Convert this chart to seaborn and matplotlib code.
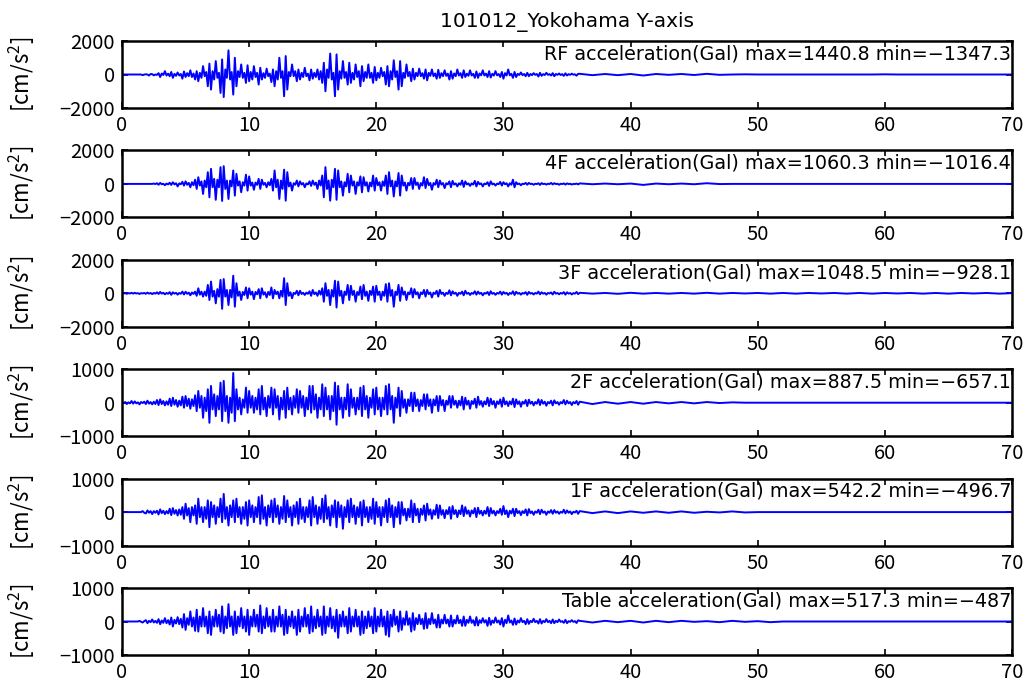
import numpy as np
import pandas as pd
import matplotlib
matplotlib.use("Agg")
import matplotlib.pyplot as plt
import seaborn as sns

# ---------------------------------------------------------------------------
# Acceleration records (Gal): one row per second, 8 samples (0.125 s apart)
# from 0 s to 36 s, then a coarse 1 s tail from 36 s to 70 s.
# ---------------------------------------------------------------------------
TITLE = "101012_Yokohama Y-axis"
floors = ["RF", "4F", "3F", "2F", "1F", "Table"]
y_limits = [2000, 2000, 2000, 1000, 1000, 1000]
x_ticks = [0, 10, 20, 30, 40, 50, 60, 70]
DT = 0.125
TAIL_START = 36

rf_acc = [
    0, 0, 0, 0, 0, 0, 0, 0,
    0, 0, 0, 0, 0, -40, 0, 10,
    0, -60, 30, 20, -50, 0, -20, 80,
    -150, 60, -30, 200, -60, 50, -100, 150,
    -200, 40, -80, 120, -60, 30, -250, 180,
    -150, 80, -100, 250, -150, 60, -300, 200,
    -400, 100, -200, 500, -100, 150, -700, 650,
    -900, 200, -300, 800, -200, 100, -1100, 900,
    -1347.3, 300, -200, 1440.8, -300, 150, -1200, 1000,
    -700, 200, -150, 600, -200, 100, -500, 550,
    -400, 150, -300, 500, -150, 100, -600, 400,
    -300, 80, -200, 350, -100, 50, -450, 300,
    -700, 200, -300, 1000, -200, 200, -1300, 1100,
    -900, 150, -100, 600, -100, 200, -400, 300,
    -300, 100, -150, 400, -100, 50, -350, 300,
    -250, 100, -150, 300, -300, 200, -500, 700,
    -1000, 300, -200, 1250, -300, 100, -1300, 1200,
    -900, 200, -250, 800, -200, 150, -600, 700,
    -500, 100, -300, 600, -150, 200, -700, 500,
    -400, 150, -200, 600, -200, 100, -500, 450,
    -350, 100, -200, 400, -100, 150, -600, 500,
    -700, 200, -300, 850, -150, 200, -900, 800,
    -700, 100, -200, 600, -100, 150, -400, 350,
    -300, 100, -100, 350, -100, 80, -250, 300,
    -350, 100, -80, 300, -100, 60, -250, 280,
    -200, 80, -100, 250, -80, 50, -300, 200,
    -250, 60, -100, 300, -60, 80, -200, 250,
    -150, 50, -80, 250, -60, 40, -200, 180,
    -200, 60, -50, 250, -60, 50, -150, 200,
    -180, 40, -60, 200, -50, 30, -150, 150,
    -250, 80, -60, 300, -50, 40, -200, 150,
    -150, 40, -30, 120, -40, 30, -100, 100,
    -100, 30, -40, 80, -20, 30, -120, 100,
    -80, 20, -30, 100, -20, 20, -60, 80,
    -100, 30, -20, 60, -30, 20, -80, 70,
    -60, 20, -20, 50, -10, 10, -70, 40,
]
rf_tail = [40, -40, 30, -40, 30, -60, 30, -20, 30, -30, 40, -20, 0, 10, 0, 0,
           0, 0, 0, 0, 0, 0, 0, 0, 10, 0, 0, 0, 0, 0, 0, 0, 0, 0, 0]

f4_acc = [
    0, 0, 0, 0, 0, 0, 0, 0,
    0, 0, 0, 0, 0, 0, 0, 0,
    0, 0, 0, 0, 20, -10, 40, -50,
    60, -20, 10, -80, 20, -30, 70, -60,
    100, -30, 40, -150, 30, -20, 120, -100,
    150, -50, 60, -200, 100, -80, 250, -300,
    400, -100, 150, -600, 200, -200, 700, -800,
    900, -200, 300, -950, 250, -200, 1000, -1016.4,
    1060.3, -300, 200, -900, 200, -150, 800, -700,
    600, -100, 150, -500, 100, -100, 550, -400,
    450, -100, 80, -350, 80, -60, 300, -300,
    250, -50, 60, -200, 100, -80, 300, -400,
    800, -200, 250, -900, 200, -300, 850, -1000,
    700, -150, 80, -400, 40, -50, 200, -150,
    150, -40, 50, -200, 30, -30, 150, -120,
    200, -50, 80, -300, 200, -100, 500, -800,
    1000, -300, 200, -1000, 250, -200, 900, -950,
    800, -200, 150, -700, 100, -150, 600, -500,
    500, -100, 150, -600, 100, -100, 450, -500,
    400, -100, 100, -450, 80, -150, 500, -400,
    350, -80, 100, -400, 150, -120, 500, -600,
    700, -150, 200, -750, 150, -150, 650, -700,
    500, -100, 80, -400, 60, -80, 350, -300,
    350, -60, 80, -300, 50, -100, 400, -250,
    300, -80, 60, -350, 50, -50, 250, -200,
    200, -40, 50, -250, 40, -30, 150, -200,
    180, -40, 30, -150, 40, -50, 200, -180,
    150, -30, 30, -120, 30, -40, 180, -150,
    120, -20, 30, -150, 20, -20, 100, -120,
    150, -30, 20, -100, 20, -20, 120, -100,
    100, -20, 40, -150, 40, -50, 250, -200,
    100, -20, 20, -80, 10, -10, 60, -50,
    60, -10, 10, -50, 10, -10, 40, -60,
    50, -10, 10, -40, 10, -10, 60, -30,
    40, -10, 10, -50, 10, -10, 30, -40,
    30, -10, 10, -40, 0, -10, 20, -30,
]
f4_tail = [30, -20, 20, -20, 20, -60, 20, -20, 20, -20, 40, -10, 0, 0, 0, 0,
           0, 0, 0, 0, 0, 0, 0, 0, 0, 0, 0, 0, 0, 0, 0, 0, 0, 0, 0]

f3_acc = [
    20, -10, 10, -30, 10, -10, 30, -20,
    30, -10, 10, -40, 10, -10, 20, -30,
    40, -20, 20, -50, 20, -20, 60, -40,
    80, -20, 30, -60, 20, -30, 70, -90,
    60, -20, 30, -80, 20, -30, 100, -70,
    90, -30, 40, -120, 50, -40, 100, -150,
    300, -80, 100, -200, 100, -150, 500, -400,
    700, -200, 150, -600, 250, -200, 800, -928.1,
    850, -200, 200, -700, 200, -250, 1048.5, -800,
    600, -150, 100, -400, 80, -100, 350, -300,
    300, -80, 100, -350, 80, -60, 250, -300,
    300, -80, 60, -250, 80, -100, 350, -300,
    200, -50, 100, -300, 150, -200, 900, -700,
    600, -150, 60, -300, 30, -40, 150, -120,
    150, -40, 30, -100, 40, -30, 120, -150,
    200, -50, 50, -150, 150, -80, 300, -500,
    600, -150, 200, -700, 200, -200, 750, -850,
    700, -150, 150, -600, 100, -100, 500, -400,
    450, -100, 150, -500, 80, -100, 400, -350,
    500, -150, 100, -450, 150, -100, 400, -500,
    450, -100, 100, -400, 100, -150, 550, -500,
    600, -150, 200, -800, 100, -100, 500, -450,
    350, -80, 100, -400, 50, -60, 300, -250,
    250, -60, 60, -300, 50, -50, 200, -200,
    200, -50, 50, -250, 40, -40, 150, -200,
    200, -40, 40, -150, 30, -40, 180, -120,
    120, -30, 40, -150, 30, -30, 100, -120,
    150, -30, 30, -100, 20, -30, 120, -80,
    100, -30, 30, -120, 20, -20, 80, -100,
    120, -30, 20, -90, 20, -20, 100, -80,
    80, -20, 30, -100, 20, -30, 120, -100,
    90, -20, 20, -80, 20, -20, 70, -90,
    80, -20, 20, -70, 20, -20, 100, -60,
    60, -20, 20, -80, 20, -10, 50, -70,
    90, -20, 20, -60, 20, -20, 70, -80,
    60, -20, 20, -70, 10, -20, 80, -50,
]
f3_tail = [30, -20, 20, -30, 30, -20, 20, -20, 20, -20, 30, -20, 20, -10, 20, -20,
           20, -20, 20, -10, 20, -20, 20, -20, 20, -10, 20, -20, 20, -20, 20, -10,
           20, -20, 10]

f2_acc = [
    30, -10, 20, -40, 10, -20, 50, -30,
    40, -20, 10, -50, 20, -10, 30, -40,
    60, -30, 20, -50, 30, -40, 80, -70,
    100, -40, 50, -80, 40, -60, 120, -100,
    150, -60, 80, -120, 60, -80, 180, -150,
    200, -100, 120, -180, 100, -100, 220, -250,
    350, -150, 200, -450, 150, -250, 400, -600,
    500, -200, 250, -400, 200, -200, 600, -550,
    650, -250, 200, -600, 150, -300, 887.5, -550,
    400, -200, 150, -350, 100, -150, 450, -300,
    350, -150, 200, -300, 150, -200, 400, -350,
    500, -200, 150, -400, 200, -150, 450, -350,
    400, -150, 200, -500, 150, -200, 350, -450,
    450, -200, 150, -350, 200, -150, 400, -300,
    350, -150, 200, -400, 150, -200, 500, -300,
    500, -200, 250, -450, 150, -200, 550, -400,
    450, -200, 200, -500, 200, -250, 600, -657.1,
    500, -200, 150, -450, 150, -200, 550, -400,
    400, -150, 150, -350, 150, -200, 450, -400,
    500, -200, 200, -450, 150, -150, 400, -350,
    450, -200, 150, -400, 150, -200, 500, -350,
    550, -200, 200, -600, 150, -150, 450, -400,
    350, -150, 100, -300, 100, -100, 300, -250,
    300, -100, 100, -250, 80, -100, 250, -200,
    250, -100, 100, -300, 100, -80, 200, -250,
    200, -80, 80, -250, 60, -60, 200, -150,
    200, -60, 60, -150, 60, -80, 180, -200,
    150, -60, 60, -180, 50, -40, 120, -150,
    180, -60, 50, -120, 40, -50, 150, -100,
    120, -50, 50, -150, 40, -40, 100, -120,
    150, -50, 40, -100, 40, -50, 120, -130,
    100, -40, 40, -120, 30, -30, 80, -100,
    90, -30, 30, -80, 20, -30, 100, -70,
    80, -30, 30, -90, 20, -20, 60, -80,
    70, -20, 20, -60, 20, -20, 80, -50,
    60, -20, 20, -70, 20, -20, 50, -60,
]
f2_tail = [30, -40, 20, -30, 20, -30, 20, -20, 20, -20, 20, -10, 10, 0, 0, 0,
           0, 0, 0, 0, 0, 0, 0, 0, 0, 0, 0, 0, 0, 0, 0, 0, 0, 0, 0]

f1_acc = [
    0, 0, 0, 0, 0, 0, 0, 0,
    0, 0, 0, 0, 0, 30, -20, -40,
    50, -20, 30, -60, 30, -20, 40, -70,
    80, -30, 40, -60, 30, -40, 100, -90,
    120, -50, 60, -100, 80, -80, 150, -200,
    250, -100, 120, -300, 150, -100, 200, -350,
    400, -150, 150, -300, 150, -200, 350, -450,
    300, -150, 200, -350, 150, -150, 400, -300,
    542.2, -200, 150, -400, 200, -150, 350, -300,
    400, -150, 150, -350, 150, -200, 300, -400,
    350, -150, 200, -300, 150, -150, 450, -350,
    500, -200, 150, -400, 200, -150, 350, -300,
    400, -150, 200, -350, 150, -200, 480, -300,
    350, -150, 150, -400, 200, -150, 300, -350,
    400, -200, 150, -300, 150, -150, 350, -400,
    450, -150, 200, -350, 150, -200, 400, -300,
    500, -200, 150, -400, 200, -150, 350, -450,
    300, -150, 200, -496.7, 150, -150, 350, -300,
    400, -150, 200, -350, 150, -150, 300, -400,
    350, -150, 150, -300, 150, -200, 400, -350,
    300, -150, 150, -400, 150, -150, 350, -300,
    400, -150, 200, -450, 150, -150, 300, -350,
    300, -100, 100, -250, 100, -150, 350, -300,
    250, -100, 100, -300, 100, -80, 200, -250,
    250, -80, 80, -200, 60, -80, 220, -180,
    200, -80, 60, -180, 60, -60, 150, -200,
    180, -60, 60, -150, 50, -60, 200, -120,
    150, -50, 50, -130, 50, -40, 120, -150,
    130, -50, 40, -100, 40, -50, 150, -120,
    120, -40, 40, -100, 30, -30, 100, -80,
    180, -60, 50, -150, 40, -40, 100, -120,
    100, -30, 30, -90, 30, -30, 80, -100,
    90, -30, 20, -80, 20, -20, 70, -60,
    70, -20, 20, -80, 20, -20, 60, -50,
    60, -20, 20, -50, 10, -20, 70, -40,
    50, -20, 20, -60, 10, -10, 40, -50,
]
f1_tail = [30, -30, 20, -30, 20, -20, 20, -20, 20, -20, 10, -10, 20, -10, 0, 0,
           0, 0, 0, 0, 0, 0, 0, 0, 0, 0, 0, 0, 0, 0, 0, 0, 0, 0, 0]

table_acc = [
    0, 0, 0, 0, 0, 0, 0, 0,
    0, 0, 0, 20, -10, -30, 10, 40,
    -50, 20, -20, 60, -30, 20, -40, 70,
    -80, 30, -40, 100, -50, 40, -90, 120,
    -150, 50, -60, 130, -80, 80, -180, 220,
    -250, 100, -100, 300, -150, 120, -280, 350,
    -300, 150, -150, 400, -150, 150, -350, 300,
    -400, 150, -150, 350, -150, 200, -300, 450,
    -350, 150, -200, 517.3, -150, 150, -400, 300,
    -350, 150, -150, 400, -200, 150, -300, 350,
    -400, 150, -150, 350, -150, 200, -300, 480,
    -350, 150, -200, 400, -150, 150, -300, 350,
    -300, 150, -150, 450, -150, 200, -400, 350,
    -350, 150, -150, 300, -200, 150, -400, 350,
    -300, 150, -150, 400, -150, 200, -350, 450,
    -300, 150, -200, 350, -150, 150, -400, 450,
    -350, 150, -150, 400, -200, 150, -300, 350,
    -487, 200, -150, 300, -150, 150, -350, 400,
    -300, 150, -150, 350, -150, 150, -400, 300,
    -350, 150, -200, 300, -150, 150, -350, 400,
    -300, 150, -150, 350, -150, 150, -400, 300,
    -450, 200, -150, 350, -100, 150, -300, 300,
    -250, 100, -100, 300, -100, 100, -300, 250,
    -250, 100, -80, 200, -80, 80, -220, 250,
    -200, 80, -80, 250, -60, 60, -180, 200,
    -180, 60, -60, 200, -60, 60, -150, 180,
    -150, 50, -60, 180, -50, 50, -130, 150,
    -130, 50, -40, 150, -40, 40, -120, 130,
    -120, 40, -40, 100, -30, 40, -130, 110,
    -100, 30, -40, 120, -30, 30, -90, 100,
    -150, 50, -50, 180, -30, 30, -100, 90,
    -90, 30, -30, 100, -20, 20, -80, 70,
    -70, 20, -20, 80, -20, 20, -60, 70,
    -60, 20, -20, 70, -20, 20, -50, 60,
    -50, 20, -20, 60, -10, 10, -40, 50,
    -50, 10, -10, 40, -10, 10, -45, 35,
]
table_tail = [20, -30, 20, -20, 20, -30, 20, -20, 20, -10, 10, -20, 20, -10, 10, -20,
              0, 0, 0, 0, 0, 0, 0, 0, 0, 0, 0, 0, 0, 0, 0, 0, 0, 0, 0]

records = [
    (rf_acc, rf_tail), (f4_acc, f4_tail), (f3_acc, f3_tail),
    (f2_acc, f2_tail), (f1_acc, f1_tail), (table_acc, table_tail),
]

# ---------------------------------------------------------------------------
# Style
# ---------------------------------------------------------------------------
sns.set_style("ticks")
TICK_FONT = ["Noto Sans CJK JP", "DejaVu Sans"]
TEXT_FONT = ["DejaVu Sans"]
plt.rcParams["font.family"] = TICK_FONT
plt.rcParams["text.color"] = "black"
plt.rcParams["axes.labelcolor"] = "black"
plt.rcParams["mathtext.fontset"] = "custom"
plt.rcParams["mathtext.rm"] = "Noto Sans CJK JP"
plt.rcParams["mathtext.it"] = "Noto Sans CJK JP"
plt.rcParams["mathtext.bf"] = "Noto Sans CJK JP"
plt.rcParams["axes.unicode_minus"] = True

fig = plt.figure(figsize=(10.27, 6.88), dpi=100)
W, H = 1027, 688
left_px, right_px = 122, 1012
top0_px, panel_h_px, step_px = 41, 67, 109.4


def fmt(v):
    return f"{v:g}".replace("-", "\u2212")


for i, (floor, lim, (main, tail)) in enumerate(zip(floors, y_limits, records)):
    top = top0_px + i * step_px
    ax = fig.add_axes([left_px / W, 1 - (top + panel_h_px) / H,
                       (right_px - left_px) / W, panel_h_px / H])
    t = np.concatenate([np.arange(len(main)) * DT,
                        TAIL_START + np.arange(len(tail), dtype=float)])
    acc = np.concatenate([np.asarray(main, float), np.asarray(tail, float)])
    df = pd.DataFrame({"time": t, "acc": acc})
    sns.lineplot(data=df, x="time", y="acc", ax=ax, color="#0000ff",
                 linewidth=1.4, estimator=None, sort=False)

    ax.set_xlim(0, 70)
    ax.set_ylim(-lim, lim)
    ax.set_xticks(x_ticks)
    ax.set_yticks([-lim, 0, lim])
    ax.set_xlabel("")
    ax.set_ylabel("[cm/s$^2$]", fontsize=16, color="black")
    ax.yaxis.set_label_coords(-0.095, 0.5)
    ax.tick_params(direction="in", length=4, width=1.2, top=True, right=True,
                   labelsize=14.5, pad=5, colors="black")
    for sp in ax.spines.values():
        sp.set_linewidth(1.8)
        sp.set_color("black")

    label = (f"{floor} acceleration(Gal) max={fmt(acc.max())} "
             f"min={fmt(acc.min())}")
    ax.text(0.999, 0.95, label, transform=ax.transAxes, ha="right", va="top",
            fontsize=13.8, color="black", family=TEXT_FONT)

    if i == 0:
        ax.set_title(TITLE, fontsize=14.5, pad=10, family=TEXT_FONT,
                     color="black")

fig.savefig("out.png", dpi=100)
